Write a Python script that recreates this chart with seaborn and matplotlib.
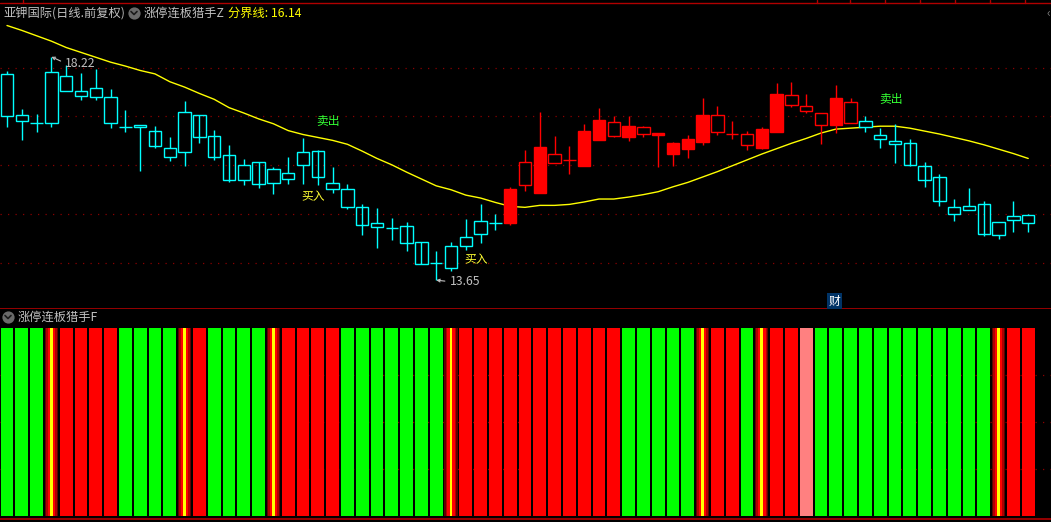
# K-line chart with the limit-up hunter indicator strip below it
import numpy as np
import pandas as pd
import matplotlib
matplotlib.use("Agg")
import matplotlib.pyplot as plt
from matplotlib.lines import Line2D
import seaborn as sns

highs = [17.93, 17.15, 17.05, 18.22, 18.05, 17.88, 17.97, 17.56, 17.13, 16.83,
         16.81, 16.58, 17.32, 17.02, 16.72, 16.42, 16.13, 16.06, 15.96, 16.17,
         16.56, 16.31, 15.97, 15.62, 15.21, 15.12, 14.92, 14.84, 14.43, 14.24,
         14.43, 14.90, 15.21, 15.00, 15.56, 16.31, 17.09, 16.60, 16.40, 16.85,
         17.17, 17.00, 17.00, 16.81, 16.67, 16.48, 16.62, 17.38, 17.21, 16.91,
         16.70, 16.79, 17.68, 17.70, 17.46, 17.07, 17.64, 17.38, 17.01, 16.76,
         16.85, 16.54, 16.07, 15.82, 15.31, 15.54, 15.27, 14.84, 15.27, 15.00]
body_tops = [17.86, 17.02, 16.86, 17.90, 17.82, 17.51, 17.58, 17.39, 16.78, 16.83,
             16.70, 16.35, 17.09, 17.02, 16.60, 16.21, 16.00, 16.06, 15.92, 15.84,
             16.27, 16.29, 15.63, 15.51, 15.14, 14.82, 14.71, 14.75, 14.43, 14.00,
             14.35, 14.53, 14.86, 14.82, 15.52, 16.06, 16.37, 16.23, 16.10, 16.70,
             16.93, 16.88, 16.81, 16.78, 16.67, 16.46, 16.53, 17.03, 17.02, 16.64,
             16.65, 16.74, 17.46, 17.43, 17.21, 17.07, 17.38, 17.29, 16.90, 16.62,
             16.49, 16.45, 15.98, 15.76, 15.14, 15.16, 15.20, 14.84, 14.96, 14.98]
body_bottoms = [17.00, 16.90, 16.86, 16.86, 17.51, 17.42, 17.40, 16.87, 16.78, 16.78,
                16.40, 16.17, 16.28, 16.57, 16.17, 15.69, 15.69, 15.61, 15.63, 15.71,
                16.01, 15.77, 15.52, 15.15, 14.77, 14.73, 14.71, 14.41, 13.99, 14.00,
                13.89, 14.35, 14.60, 14.82, 14.81, 15.60, 15.44, 16.05, 16.10, 15.99,
                16.52, 16.59, 16.57, 16.64, 16.63, 16.24, 16.33, 16.48, 16.69, 16.64,
                16.42, 16.36, 16.69, 17.24, 17.12, 16.83, 16.83, 16.86, 16.78, 16.53,
                16.43, 16.01, 15.69, 15.26, 15.00, 15.08, 14.59, 14.57, 14.89, 14.82]
lows = [16.78, 16.51, 16.69, 16.79, 17.51, 17.34, 17.34, 16.77, 16.69, 15.89,
        16.36, 16.09, 15.99, 16.46, 16.10, 15.65, 15.60, 15.54, 15.41, 15.62,
        15.62, 15.60, 15.44, 15.11, 14.58, 14.30, 14.47, 14.25, 13.99, 13.65,
        13.83, 14.27, 14.40, 14.68, 14.78, 15.48, 15.44, 16.05, 15.83, 15.99,
        16.52, 16.57, 16.50, 16.57, 15.97, 15.99, 16.15, 16.42, 16.61, 16.53,
        16.32, 16.33, 16.69, 17.20, 17.06, 16.44, 16.67, 16.86, 16.68, 16.36,
        16.05, 15.99, 15.56, 15.17, 14.86, 15.08, 14.56, 14.50, 14.64, 14.64]
boundary = [18.86, 18.76, 18.65, 18.54, 18.41, 18.31, 18.21, 18.11, 18.03, 17.94,
            17.87, 17.71, 17.60, 17.47, 17.35, 17.18, 17.07, 16.95, 16.85, 16.71,
            16.63, 16.57, 16.51, 16.43, 16.29, 16.14, 16.01, 15.86, 15.72, 15.58,
            15.50, 15.39, 15.33, 15.24, 15.16, 15.14, 15.18, 15.18, 15.20, 15.25,
            15.31, 15.31, 15.35, 15.40, 15.46, 15.56, 15.65, 15.76, 15.87, 15.99,
            16.11, 16.23, 16.34, 16.45, 16.55, 16.66, 16.74, 16.76, 16.78, 16.80,
            16.80, 16.76, 16.70, 16.64, 16.57, 16.50, 16.42, 16.33, 16.24, 16.14]
# c = cyan outline, r = red outline, R = red filled
candle_kinds = ["c"] * 34 + ["R", "r", "R", "r", "r", "R", "R", "r", "R", "r",
                             "R", "R", "R", "R", "r", "r", "r", "R", "R", "r",
                             "r", "r", "R", "r"] + ["c"] * 12
# hollow candles where the wick shows through the body
wick_through = [10, 13, 14, 15, 17, 21, 24, 27, 28, 61, 62, 63, 66]
# g = green, r = red, y = red with yellow stripe, p = pink
strip_kinds = list("gggyrrrrggggyrggggyrrrrg"
                   "ggggggyrrrrrrrrrrrggggg"
                   "yrrgyrrpggggggggggggyrr")
grid_prices = [18, 17, 16, 15, 14]
strip_levels = [0.25, 0.5, 0.75]
labels_sell = [(21.7, 16.90), (59.7, 17.34)]
labels_buy = [(20.7, 15.35), (31.7, 14.07)]

BLACK = "#000000"
CYAN = "#00ffff"
RED = "#ff0000"
LINE_RED = "#b00000"
GRID_RED = "#8a0000"
GRAY = "#c0c0c0"
W, H = 1051, 522

sns.set_theme(style="dark")
plt.rcParams["font.family"] = ["Noto Sans CJK SC", "DejaVu Sans"]
plt.rcParams["axes.unicode_minus"] = False

df = pd.DataFrame({"day": np.arange(len(highs)), "boundary": boundary})
days = df["day"].to_numpy()

fig = plt.figure(figsize=(W / 100, H / 100), dpi=100, facecolor=BLACK)
ax = fig.add_axes([0, 1 - 308.5 / H, 1, 308.5 / H], facecolor=BLACK)
ax2 = fig.add_axes([0, 1 - 519 / H, 1, (519 - 308.5) / H], facecolor=BLACK)

# ── price panel ──────────────────────────────────────────────────────────────
for p in grid_prices:
    ax.axhline(p, color=GRID_RED, lw=0.9, ls=(0, (1, 5)), zorder=1)

sns.lineplot(data=df, x="day", y="boundary", color="#ffff00", lw=1.0, ax=ax, zorder=2)

for i in days:
    kind = candle_kinds[i]
    col = CYAN if kind == "c" else RED
    top, bot = body_tops[i], body_bottoms[i]
    ax.vlines(i, lows[i], highs[i], color=col, lw=1.0, zorder=3)
    if kind == "R":
        face = RED
    elif i in wick_through:
        face = "none"
    else:
        face = BLACK
    ax.bar(i, top - bot, bottom=bot, width=0.84, zorder=4,
           facecolor=face, edgecolor=col, linewidth=1.0)

ax.set_xlim(-0.473, 70.54)
ax.set_ylim(13.07, 19.382)

for i, p in labels_sell:
    ax.text(i, p, "卖出", color="#33ff33", fontsize=8.5, ha="center", va="center")
for i, p in labels_buy:
    ax.text(i, p, "买入", color="#ffff33", fontsize=8.5, ha="center", va="center")

arrow = dict(arrowstyle="->", color=GRAY, lw=0.8, shrinkA=1, shrinkB=0,
             mutation_scale=5, relpos=(0, 0.5))
ax.annotate("18.22", xy=(3, 18.22), xytext=(3.93, 18.09), color=GRAY, fontsize=8.8,
            va="center", arrowprops=arrow)
ax.annotate("13.65", xy=(29, 13.65), xytext=(29.9, 13.62), color=GRAY, fontsize=8.8,
            va="center", arrowprops=arrow)

# ── indicator strip ──────────────────────────────────────────────────────────
for y in strip_levels:
    ax2.axhline(y, color=GRID_RED, lw=0.9, ls=(0, (1, 5)), zorder=0)

kinds = np.array(strip_kinds)
layers = [("g", "#00ff00", 0.87), ("r", RED, 0.87), ("p", "#ff8080", 0.87),
          ("y", "#600000", 0.88), ("y", "#b00000", 0.72), ("y", RED, 0.52), ("y", "#ffff00", 0.2)]
for kind, col, width in layers:
    sns.barplot(x=days, y=(kinds == kind).astype(float), color=col, width=width, saturation=1,
                native_scale=True, linewidth=0, ax=ax2, zorder=2)
ax2.set_xlim(ax.get_xlim())
ax2.set_ylim(-0.016, 1.102)

for a in (ax, ax2):
    a.set_xticks([])
    a.set_yticks([])
    a.set_xlabel("")
    a.set_ylabel("")
    a.grid(False)
    for name, spine in a.spines.items():
        spine.set_visible(name == "bottom")
        spine.set_color(LINE_RED)
        spine.set_linewidth(1.2)

# ── frame bits and header texts, placed in screen pixels ─────────────────────
def seg(xs, ys, col=LINE_RED, lw=1.0):
    fig.add_artist(Line2D([x / W for x in xs], [1 - y / H for y in ys], color=col, lw=lw,
                          transform=fig.transFigure))

def header(x, y, s, col=GRAY, size=8.8):
    fig.text(x / W, 1 - y / H, s, color=col, fontsize=size, va="center", ha="left")

seg([0, W], [3, 3])
for x in [23, 817, 850, 885, 920, 955, 990, 1025]:
    seg([x, x], [0, 3])

header(3, 13, "亚钾国际(日线.前复权)")
header(144, 13, "涨停连板猎手Z")
header(228, 13, "分界线: 16.14", "#ffff00")
header(18, 317, "涨停连板猎手F")
header(1046, 13, "‹", "#808080")

for x, y in [(134, 13), (8, 317)]:
    fig.add_artist(Line2D([x / W], [1 - y / H], marker="o", ms=8.8, color="#6a6a6a", mew=0,
                          transform=fig.transFigure))
    seg([x - 3, x, x + 3], [y - 1.5, y + 1.5, y - 1.5], col="#1a1a1a", lw=1.2)

fig.text(834.5 / W, 1 - 301 / H, "财", color="#ffffff", fontsize=8.5, ha="center", va="center",
         bbox=dict(boxstyle="square,pad=0.1", fc="#003366", ec="none"))

fig.savefig("out.png", dpi=100, facecolor=BLACK)
